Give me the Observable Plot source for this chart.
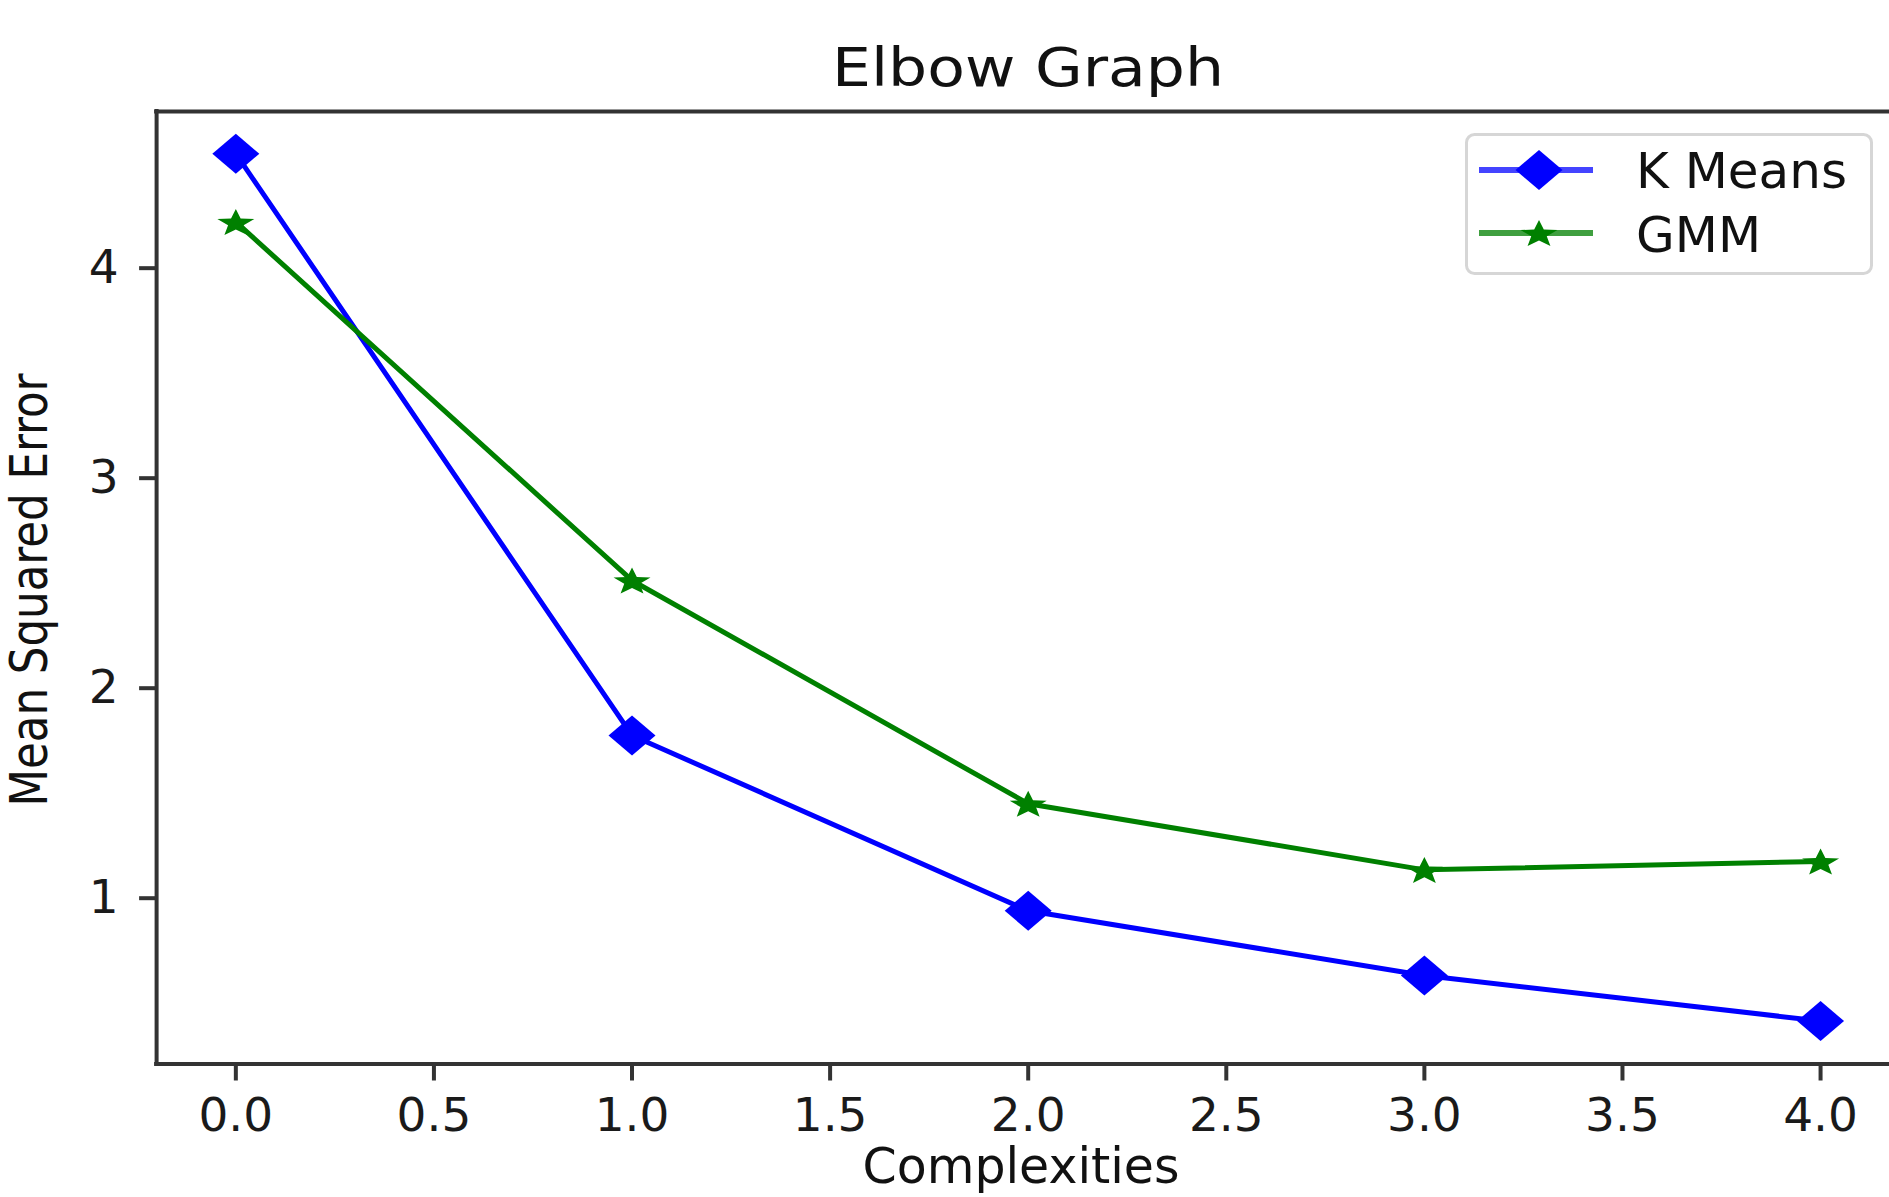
<!DOCTYPE html>
<html>
<head>
<meta charset="utf-8">
<script src="https://cdn.jsdelivr.net/npm/d3@7"></script>
<script src="https://cdn.jsdelivr.net/npm/@observablehq/plot@0.6"></script>
<style>
  html, body { margin: 0; padding: 0; background: #ffffff; }
  #wrap { position: relative; width: 1889px; height: 1197px; overflow: hidden; background: #ffffff; }
  #wrap svg { display: block; }
</style>
</head>
<body>
<div id="wrap"></div>
<script>
// ---- data ----
const complexities = [0, 1, 2, 3, 4];
const kMeansError = [4.545, 1.775, 0.94, 0.632, 0.415];
const gmmError = [4.22, 2.513, 1.45, 1.135, 1.175];
const seriesNames = ["K Means", "GMM"];
const seriesColors = ["#0000ff", "#008000"];
const legendLineColors = ["#4444ff", "#3f9f3f"];
const xTickValues = [0, 0.5, 1, 1.5, 2, 2.5, 3, 3.5, 4];
const yTickValues = [1, 2, 3, 4];
const titleText = "Elbow Graph";
const xLabelText = "Complexities";
const yLabelText = "Mean Squared Error";

const xDomain = [-0.2, 4.174];
const yDomain = [0.2105, 4.746];

const kRows = complexities.map((c, i) => ({c, v: kMeansError[i]}));
const gRows = complexities.map((c, i) => ({c, v: gmmError[i]}));

// wide diamond (matplotlib "D" as it appears, slightly stretched)
const diamondSym = {
  draw(ctx, size) {
    const r = Math.sqrt(size / Math.PI);
    const hw = r, hh = r * 0.85;
    ctx.moveTo(0, -hh); ctx.lineTo(hw, 0); ctx.lineTo(0, hh); ctx.lineTo(-hw, 0); ctx.closePath();
  }
};
// five-point star, stretched horizontally
const starSym = {
  draw(ctx, size) {
    const R = Math.sqrt(size / Math.PI);
    const ri = R * 0.42, sx = 1.35;
    for (let i = 0; i < 10; i++) {
      const a = i * Math.PI / 5 - Math.PI / 2;
      const rr = i % 2 === 0 ? R : ri;
      const px = Math.cos(a) * rr * sx, py = Math.sin(a) * rr + R * 0.1;
      if (i === 0) ctx.moveTo(px, py); else ctx.lineTo(px, py);
    }
    ctx.closePath();
  }
};

const font = '"DejaVu Sans", "Liberation Sans", sans-serif';

const chart = Plot.plot({
  width: 1889,
  height: 1197,
  marginLeft: 156.1,
  marginRight: 0,
  marginTop: 111,
  marginBottom: 1197 - 1063.5,
  x: {domain: xDomain},
  y: {domain: yDomain},
  style: {fontFamily: font, fontSize: "47px", color: "#1a1a1a", background: "transparent", overflow: "visible"},
  marks: [
    Plot.axisX({ticks: xTickValues, tickFormat: d => d.toFixed(1), tickSize: 17, tickPadding: 17,
      stroke: "#333333", strokeWidth: 4, fontSize: 47, label: null}),
    Plot.axisY({ticks: yTickValues, tickFormat: d => String(d), tickSize: 17, tickPadding: 21,
      stroke: "#333333", strokeWidth: 4, fontSize: 47, label: null}),
    Plot.ruleX([xDomain[0]], {stroke: "#333333", strokeWidth: 4, strokeLinecap: "square"}),
    Plot.ruleY([yDomain[0], yDomain[1]], {stroke: "#333333", strokeWidth: 4, strokeLinecap: "square"}),
    Plot.line(kRows, {x: "c", y: "v", stroke: seriesColors[0], strokeWidth: 5}),
    Plot.dot(kRows, {x: "c", y: "v", symbol: diamondSym, r: 23.5, fill: seriesColors[0], stroke: null}),
    Plot.line(gRows, {x: "c", y: "v", stroke: seriesColors[1], strokeWidth: 5}),
    Plot.dot(gRows, {x: "c", y: "v", symbol: starSym, r: 14.4, fill: seriesColors[1], stroke: null})
  ]
});

document.getElementById("wrap").appendChild(chart);

const svg = d3.select(chart);
// title
svg.append("text")
  .attr("x", 1028).attr("y", 86)
  .attr("text-anchor", "middle")
  .attr("font-family", font).attr("font-size", 53)
  .attr("fill", "#111111")
  .attr("textLength", 392).attr("lengthAdjust", "spacingAndGlyphs")
  .text(titleText);
// x label
svg.append("text")
  .attr("x", 1021).attr("y", 1183)
  .attr("text-anchor", "middle")
  .attr("font-family", font).attr("font-size", 49)
  .attr("fill", "#111111")
  .text(xLabelText);
// y label
svg.append("text")
  .attr("transform", "translate(47,590) rotate(-90)")
  .attr("text-anchor", "middle")
  .attr("font-family", font).attr("font-size", 52)
  .attr("fill", "#111111")
  .attr("textLength", 433).attr("lengthAdjust", "spacingAndGlyphs")
  .text(yLabelText);

// legend
const lg = svg.append("g").attr("text-anchor", "start");
lg.append("rect")
  .attr("x", 1466.5).attr("y", 134.5).attr("width", 405).attr("height", 139).attr("rx", 8)
  .attr("fill", "#ffffff").attr("fill-opacity", 0.8)
  .attr("stroke", "#d6d6d6").attr("stroke-width", 3);
const legendSymbols = [diamondSym, starSym];
const legendR = [23.5, 14.4];
const rowY = [170, 233];
const textY = [188, 252];
seriesNames.forEach((name, i) => {
  lg.append("line").attr("x1", 1479).attr("x2", 1593).attr("y1", rowY[i]).attr("y2", rowY[i])
    .attr("stroke", legendLineColors[i]).attr("stroke-width", 6);
  lg.append("path").attr("transform", `translate(1539,${rowY[i]})`)
    .attr("d", d3.symbol(legendSymbols[i], Math.PI * legendR[i] * legendR[i])())
    .attr("fill", seriesColors[i]);
  lg.append("text").attr("x", 1636).attr("y", textY[i])
    .attr("text-anchor", "start")
    .attr("font-family", font).attr("font-size", 50).attr("fill", "#111111")
    .text(name);
});
</script>
</body>
</html>
